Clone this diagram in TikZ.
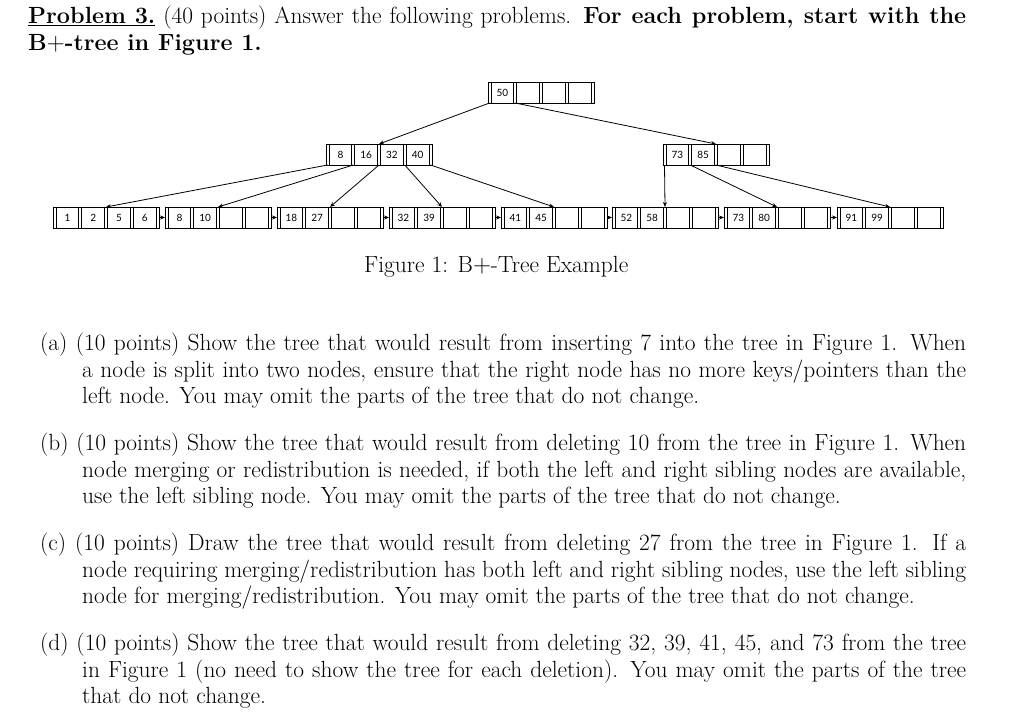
\documentclass[tikz,border=0pt]{standalone}
\usepackage{fontspec}
\newfontfamily\keyfont{Lato}
\usetikzlibrary{arrows.meta}
\tikzset{
  bx/.style={draw=black,line width=0.7pt},
  key/.style={font=\keyfont\fontsize{10}{10}\selectfont,inner sep=0pt},
  ptr/.style={draw=black,line width=0.8pt,-{Stealth[length=5pt,width=4pt]}},
  txt/.style={anchor=base west,inner sep=0pt,font=\fontsize{23.4}{26}\selectfont},
}
\newcommand\bpnode[4]{%
 \draw[bx] (#2,#3) rectangle ++(106,21);
 \foreach \k [count=\i from 0] in {#4}{
   \draw[bx] ({#2+\i*25.75+3},#3) rectangle ({#2+(\i+1)*25.75},#3+21);
   \node[key] at ({#2+\i*25.75+3+11.4},#3+10.5) {\k};
   \coordinate (#1-p\i) at ({#2+\i*25.75+1.5},#3+21);
 }
 \coordinate (#1-p4) at (#2+104.5,#3+21);
 \coordinate (#1-t) at (#2+53,#3);
 \coordinate (#1-l) at (#2,#3+10.5);
 \coordinate (#1-r) at (#2+106,#3+10.5);
}
\newcommand\jl[2]{\makebox[#1pt][s]{#2}}
\begin{document}
\begin{tikzpicture}[x=1pt,y=-1pt]
\useasboundingbox (0,0) rectangle (1024,725);
% tree
\bpnode{root}{488}{82}{50,{},{},{}}
\bpnode{L}{326}{144}{8,16,32,40}
\bpnode{R}{663}{144}{73,85,{},{}}
\bpnode{a}{53}{207}{1,2,5,6}
\bpnode{b}{165}{207}{8,10,{},{}}
\bpnode{c}{277}{207}{18,27,{},{}}
\bpnode{d}{389}{207}{32,39,{},{}}
\bpnode{e}{501}{207}{41,45,{},{}}
\bpnode{f}{612}{207}{52,58,{},{}}
\bpnode{g}{724}{207}{73,80,{},{}}
\bpnode{h}{837}{207}{91,99,{},{}}
\draw[ptr] (root-p0) -- (L-t);
\draw[ptr] (root-p1) -- (R-t);
\draw[ptr] (L-p0) -- (a-t);
\draw[ptr] (L-p1) -- (b-t);
\draw[ptr] (L-p2) -- (c-t);
\draw[ptr] (L-p3) -- (d-t);
\draw[ptr] (L-p4) -- (e-t);
\draw[ptr] (R-p0) -- (f-t);
\draw[ptr] (R-p1) -- (g-t);
\draw[ptr] (R-p2) -- (h-t);
\foreach \u/\v in {a/b,b/c,c/d,d/e,e/f,f/g,g/h}{\draw[ptr,line width=0.6pt] (\u-r) -- (\v-l);}
% text
\node[txt] (t1) at (28,24) {\jl{938}{\textbf{\underline{Problem 3.}} (40 points) Answer the following problems. \textbf{For each problem, start with the}}};
\node[txt] (t2) at (28,50) {\textbf{B$+$-tree in Figure 1.}};
\node[txt] (cap) at (364,272) {Figure 1: B$+$-Tree Example};
\node[txt] (a1) at (40,350) {\jl{926}{(a) (10 points) Show the tree that would result from inserting 7 into the tree in Figure 1. When}};
\node[txt] (a2) at (82,377) {\jl{884}{a node is split into two nodes, ensure that the right node has no more keys/pointers than the}};
\node[txt] (a3) at (82,403) {left node. You may omit the parts of the tree that do not change.};
\node[txt] (b1) at (40,450) {\jl{926}{(b) (10 points) Show the tree that would result from deleting 10 from the tree in Figure 1. When}};
\node[txt] (b2) at (82,477) {\jl{884}{node merging or redistribution is needed, if both the left and right sibling nodes are available,}};
\node[txt] (b3) at (82,503) {use the left sibling node. You may omit the parts of the tree that do not change.};
\node[txt] (c1) at (40,550) {\jl{926}{(c) (10 points) Draw the tree that would result from deleting 27 from the tree in Figure 1. If a}};
\node[txt] (c2) at (82,577) {\jl{884}{node requiring merging/redistribution has both left and right sibling nodes, use the left sibling}};
\node[txt] (c3) at (82,603) {node for merging/redistribution. You may omit the parts of the tree that do not change.};
\node[txt] (d1) at (40,650) {\jl{926}{(d) (10 points) Show the tree that would result from deleting 32, 39, 41, 45, and 73 from the tree}};
\node[txt] (d2) at (82,677) {\jl{884}{in Figure 1 (no need to show the tree for each deletion). You may omit the parts of the tree}};
\node[txt] (d3) at (82,703) {that do not change.};
\end{tikzpicture}
\end{document}
